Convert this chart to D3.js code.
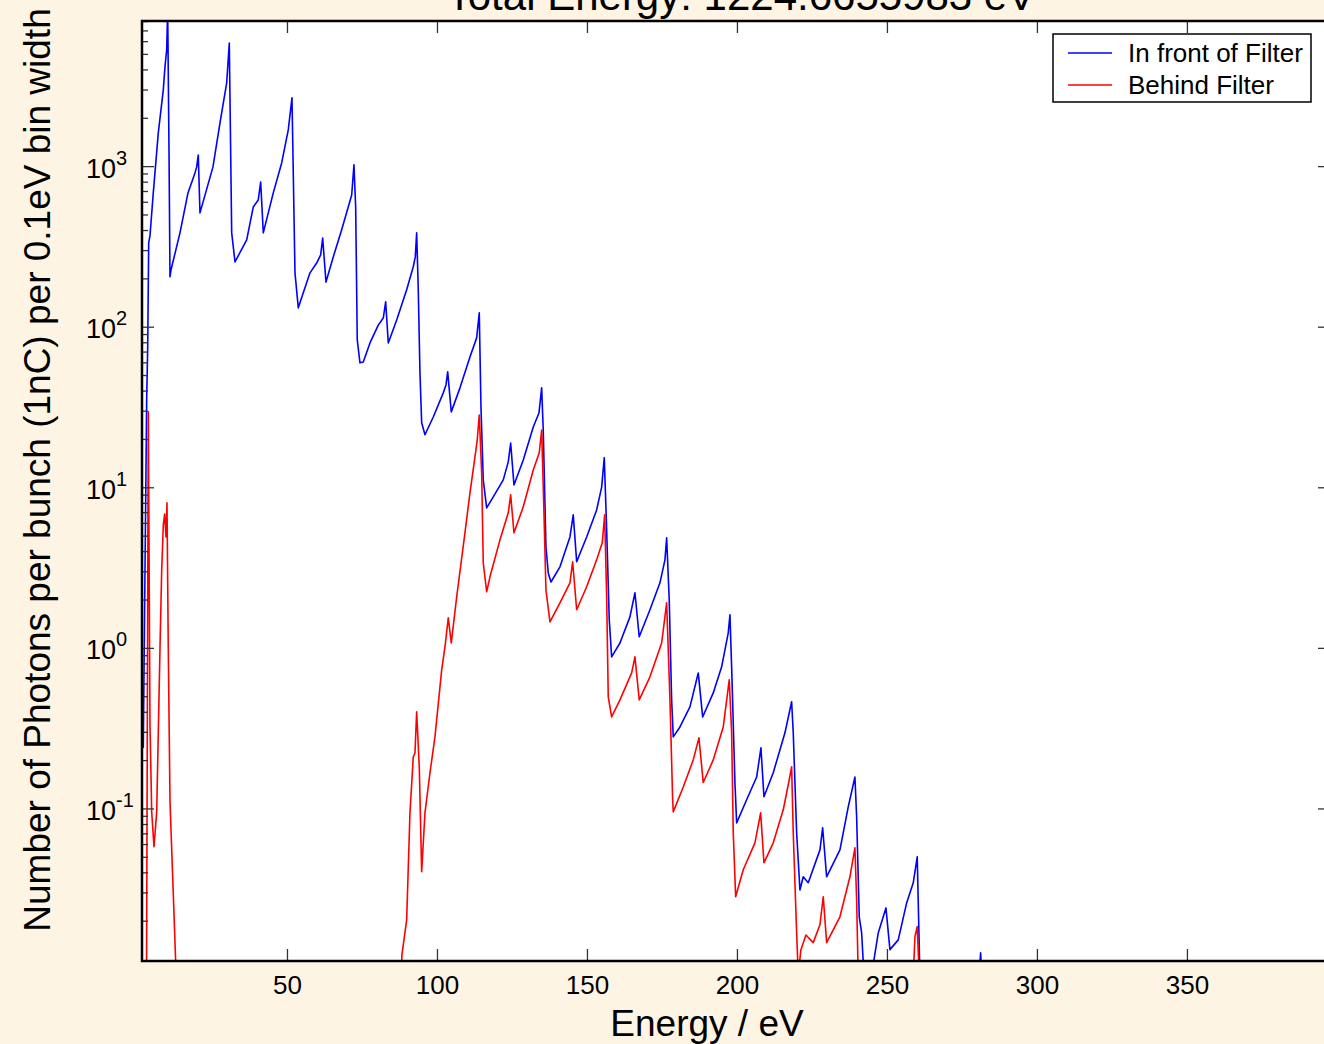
<!DOCTYPE html>
<html>
<head>
<meta charset="utf-8">
<script src="https://cdn.jsdelivr.net/npm/d3@7"></script>
<style>
  body { margin: 0; background: #fdf4e3; }
  svg { display: block; }
  text { font-family: "Liberation Sans", Arial, Helvetica, sans-serif; fill: #000; }
</style>
</head>
<body>
<script>
// Spectrum: [energy in eV, photons per bunch per 0.1 eV]
// values below the bottom of the axis are where the curve leaves the plot
var inFrontOfFilter = [
  [2.10, 0.240], [2.67, 3.08], [3.23, 35.3], [3.57, 75.4], [3.90, 335], [4.33, 370],
  [5.43, 686], [7.10, 1622], [8.77, 3006], [9.33, 4180], [9.90, 5330], [10.23, 9500],
  [10.67, 1270], [11.0, 206], [11.33, 227], [14.33, 387], [17.0, 686], [19.33, 914],
  [19.9, 996], [20.43, 1182], [21.0, 515], [25.33, 996], [27.67, 1871], [29.9, 3320],
  [30.77, 5890], [31.57, 387], [32.67, 255], [36.57, 350], [38.77, 561], [40.43, 620],
  [41.23, 802], [42.1, 387], [45.43, 686], [48.23, 1054], [50.43, 1693], [51.67, 2680],
  [52.67, 218], [53.77, 132], [55.43, 164], [57.67, 218], [59.9, 251], [61.23, 282],
  [61.9, 359], [63.0, 191], [65.43, 274], [68.23, 404], [70.43, 561], [71.57, 666],
  [72.33, 1025], [72.9, 561], [73.43, 83.4], [74.33, 60.0], [75.43, 60.8], [77.67, 79.8],
  [80.43, 103], [82.1, 114], [82.9, 144], [83.77, 79.8], [86.57, 111], [89.9, 171],
  [92.1, 238], [92.77, 274], [93.23, 387], [93.77, 171], [94.33, 52.0], [94.9, 25.4],
  [96.0, 21.4], [98.77, 27.6], [102.1, 39.0], [103.0, 43.7], [103.57, 52.7], [104.77, 29.7],
  [107.67, 41.9], [111.0, 65.3], [113.23, 85.8], [114.1, 123], [114.67, 31.9], [115.43, 11.2],
  [116.57, 7.50], [118.77, 8.78], [122.1, 11.2], [123.77, 14.5], [124.57, 19.0], [125.67, 10.4],
  [128.77, 14.9], [132.1, 23.9], [134.0, 29.2], [134.9, 41.9], [135.43, 22.9], [136.33, 4.29],
  [137.1, 2.95], [138.0, 2.59], [141.0, 3.22], [144.33, 4.94], [145.43, 6.78], [146.57, 3.46],
  [149.9, 4.94], [153.23, 7.28], [154.9, 10.1], [155.77, 15.4], [156.57, 5.47], [157.43, 1.51],
  [158.23, 0.885], [161.0, 1.08], [164.33, 1.57], [166.0, 2.22], [167.43, 1.18], [171.0, 1.74],
  [174.33, 2.56], [176.0, 3.56], [176.57, 4.88], [177.43, 2.00], [178.23, 0.478], [178.77, 0.281],
  [181.0, 0.324], [184.33, 0.432], [187.1, 0.703], [188.57, 0.374], [192.1, 0.528], [194.9, 0.767],
  [197.1, 1.25], [197.67, 1.62], [198.23, 0.767], [199.33, 0.146], [199.9, 0.0819], [203.23, 0.114],
  [206.57, 0.158], [208.0, 0.240], [209.0, 0.119], [212.1, 0.168], [216.0, 0.298], [218.23, 0.465],
  [218.77, 0.298], [219.9, 0.0710], [221.0, 0.0313], [222.1, 0.0378], [223.77, 0.0347], [227.67, 0.0556],
  [228.57, 0.0762], [229.9, 0.0378], [234.33, 0.0556], [237.1, 0.103], [239.33, 0.158], [239.9, 0.0893],
  [240.77, 0.0213], [241.57, 0.0169], [242.33, 0.0093], [244.9, 0.0093], [247.1, 0.0169], [249.67, 0.0242],
  [251.0, 0.0133], [253.77, 0.0153], [256.57, 0.0260], [258.77, 0.0347], [260.1, 0.0503], [261.0, 0.009],
  [280.67, 0.009], [281.23, 0.0127], [281.67, 0.009], [397.7, 0.009]
];

var behindFilter = [
  [3.17, 0.008], [3.77, 29.7], [4.33, 0.339], [4.9, 0.0959], [5.67, 0.0581], [6.57, 0.0959],
  [7.67, 1.007], [8.23, 3.04], [8.77, 5.87], [9.23, 6.87], [9.67, 4.94], [10.0, 8.05],
  [10.43, 1.0], [11.0, 0.112], [11.9, 0.0378], [13.17, 0.008], [88.0, 0.008], [88.33, 0.0124],
  [89.9, 0.0204], [91.0, 0.0946], [92.1, 0.211], [92.67, 0.223], [93.23, 0.403], [94.1, 0.183],
  [94.9, 0.0406], [96.0, 0.0946], [97.67, 0.168], [99.33, 0.281], [101.57, 0.735], [102.67, 1.02],
  [103.77, 1.55], [104.77, 1.08], [106.57, 2.09], [109.33, 5.24], [111.0, 9.30], [112.67, 15.6],
  [113.43, 19.9], [114.1, 28.4], [114.9, 12.4], [115.43, 3.41], [116.57, 2.25], [117.67, 2.79],
  [121.0, 4.74], [123.77, 6.98], [124.57, 9.03], [125.67, 5.24], [128.77, 7.61], [132.1, 12.9],
  [134.1, 16.5], [134.9, 22.9], [135.67, 6.98], [136.33, 2.31], [137.67, 1.46], [141.0, 1.92],
  [144.33, 2.56], [145.23, 3.46], [146.57, 1.74], [149.9, 2.42], [153.23, 3.56], [155.1, 4.54],
  [155.9, 6.78], [156.57, 2.09], [157.1, 0.499], [158.23, 0.374], [161.0, 0.478], [164.9, 0.703],
  [166.0, 0.885], [167.43, 0.478], [171.0, 0.665], [174.9, 1.08], [176.57, 1.92], [177.67, 0.478],
  [178.57, 0.114], [178.77, 0.0959], [182.1, 0.137], [185.43, 0.202], [187.33, 0.277], [188.77, 0.146],
  [192.1, 0.202], [195.43, 0.324], [197.43, 0.637], [198.23, 0.298], [198.77, 0.0710], [199.57, 0.0284],
  [202.1, 0.0418], [206.0, 0.0615], [207.9, 0.0946], [209.0, 0.0462], [212.1, 0.0615], [215.43, 0.0987],
  [217.43, 0.152], [218.23, 0.183], [218.77, 0.0710], [219.9, 0.0169], [220.43, 0.0093], [221.33, 0.0133],
  [223.0, 0.0164], [225.43, 0.0147], [227.67, 0.0190], [228.77, 0.0284], [229.9, 0.0147], [234.33, 0.0213],
  [237.67, 0.0378], [239.33, 0.0573], [239.9, 0.0272], [240.43, 0.009], [258.77, 0.009], [259.33, 0.016],
  [260.1, 0.0185], [260.77, 0.009], [397.7, 0.009]
];

var xDomain = [1.67, 397.7];
var yDomain = [0.0113, 8070];
var xTicks = [50, 100, 150, 200, 250, 300, 350];
var yExponents = [-1, 0, 1, 2, 3];
var seriesNames = ["In front of Filter", "Behind Filter"];
var seriesColors = ["#0000ff", "#ff0000"];
var titleText = "Total Energy: 1224.6655983 eV";

var width = 1324, height = 1044;
// the plot frame runs a few pixels past the right edge of the window, as in the original
var plot = {left: 142, right: 1330, top: 21, bottom: 961};

var svg = d3.select("body").append("svg")
  .attr("width", width)
  .attr("height", height);

svg.append("rect")
  .attr("width", width).attr("height", height)
  .attr("fill", "#fdf4e3");

svg.append("rect")
  .attr("x", plot.left).attr("y", plot.top)
  .attr("width", plot.right - plot.left).attr("height", plot.bottom - plot.top)
  .attr("fill", "#fff");

var x = d3.scaleLinear().domain(xDomain).range([plot.left, plot.right]);
var y = d3.scaleLog().domain(yDomain).range([plot.bottom, plot.top]);

svg.append("clipPath").attr("id", "clip")
  .append("rect")
  .attr("x", plot.left).attr("y", plot.top)
  .attr("width", plot.right - plot.left).attr("height", plot.bottom - plot.top);

var line = d3.line()
  .x(function(d) { return x(d[0]); })
  .y(function(d) { return y(d[1]); });

var curves = svg.append("g").attr("clip-path", "url(#clip)");
[inFrontOfFilter, behindFilter].forEach(function(s, i) {
  curves.append("path")
    .datum(s)
    .attr("d", line)
    .attr("fill", "none")
    .attr("stroke", seriesColors[i])
    .attr("stroke-width", 1.6)
    .attr("stroke-linejoin", "round");
});

// x axes (bottom with labels, top mirrored)
var xBottom = d3.axisBottom(x).tickValues(xTicks).tickSize(-12).tickPadding(7)
  .tickFormat(d3.format("d"));
var gx = svg.append("g")
  .attr("transform", "translate(0," + plot.bottom + ")")
  .call(xBottom);
gx.select(".domain").remove();
gx.selectAll("line").attr("stroke", "#333").attr("stroke-width", 1.3);
gx.selectAll("text")
  .attr("font-size", 26)
  .attr("font-family", '"Liberation Sans", Arial, sans-serif')
  .attr("dy", 0)
  .attr("y", 33);

var gxTop = svg.append("g")
  .attr("transform", "translate(0," + plot.top + ")")
  .call(d3.axisTop(x).tickValues(xTicks).tickSize(-12).tickFormat(""));
gxTop.select(".domain").remove();
gxTop.selectAll("line").attr("stroke", "#333").attr("stroke-width", 1.3);

// log y ticks, inward on both sides
var yAll = y.ticks().filter(function(v) { return v >= yDomain[0] && v <= yDomain[1]; });
function isMajor(v) { return Math.abs(Math.log10(v) - Math.round(Math.log10(v))) < 1e-6; }

var yt = svg.append("g");
yt.selectAll("line.l").data(yAll).enter().append("line")
  .attr("x1", plot.left)
  .attr("x2", function(d) { return plot.left + (isMajor(d) ? 12 : 6); })
  .attr("y1", function(d) { return y(d); })
  .attr("y2", function(d) { return y(d); })
  .attr("stroke", "#333").attr("stroke-width", 1.3);
yt.selectAll("line.r").data(yAll).enter().append("line")
  .attr("x1", plot.right)
  .attr("x2", function(d) { return plot.right - (isMajor(d) ? 12 : 6); })
  .attr("y1", function(d) { return y(d); })
  .attr("y2", function(d) { return y(d); })
  .attr("stroke", "#333").attr("stroke-width", 1.3);

var ylab = svg.append("g").selectAll("text").data(yExponents).enter().append("text")
  .attr("x", 86)
  .attr("y", function(d) { return y(Math.pow(10, d)) + 11; })
  .attr("font-size", 27);
ylab.append("tspan").text("10");
ylab.append("tspan")
  .attr("dy", -13)
  .attr("font-size", 20)
  .text(function(d) { return d; });

// frame
svg.append("rect")
  .attr("x", plot.left).attr("y", plot.top)
  .attr("width", plot.right - plot.left).attr("height", plot.bottom - plot.top)
  .attr("fill", "none")
  .attr("stroke", "#000")
  .attr("stroke-width", 2.5);

// titles
svg.append("text")
  .attr("x", 741).attr("y", 9.5)
  .attr("text-anchor", "middle")
  .attr("font-size", 42)
  .text(titleText);

svg.append("text")
  .attr("x", 707).attr("y", 1036)
  .attr("text-anchor", "middle")
  .attr("font-size", 37)
  .text("Energy / eV");

svg.append("text")
  .attr("transform", "translate(50,470) rotate(-90)")
  .attr("text-anchor", "middle")
  .attr("font-size", 37)
  .text("Number of Photons per bunch (1nC) per 0.1eV bin width");

// legend
var legend = svg.append("g");
legend.append("rect")
  .attr("x", 1053).attr("y", 34)
  .attr("width", 258).attr("height", 68)
  .attr("fill", "#fff")
  .attr("stroke", "#000")
  .attr("stroke-width", 1.5);
seriesNames.forEach(function(name, i) {
  var ly = 53 + i * 32;
  legend.append("line")
    .attr("x1", 1068).attr("x2", 1112)
    .attr("y1", ly).attr("y2", ly)
    .attr("stroke", seriesColors[i])
    .attr("stroke-width", 1.3);
  legend.append("text")
    .attr("x", 1128).attr("y", ly + 9)
    .attr("font-size", 26)
    .text(name);
});
</script>
</body>
</html>
